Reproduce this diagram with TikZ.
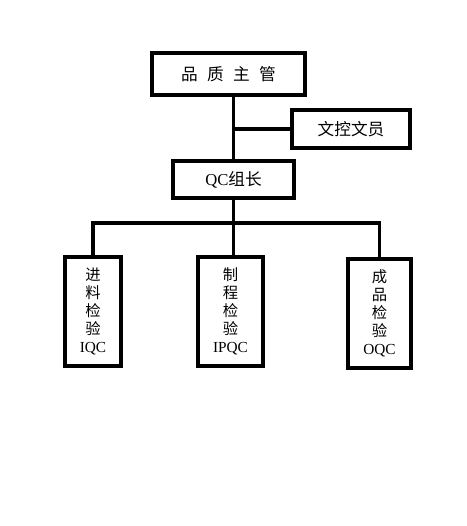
\documentclass[tikz,border=0pt]{standalone}
\usepackage{fontspec}
\setmainfont{Liberation Serif}
\newfontfamily\cjk{Noto Sans CJK SC}
\tikzset{
  box/.style={draw, line width=2.5pt, align=center, inner sep=0pt, font=\fontsize{11.5}{13.5}\selectfont},
  bigbox/.style={box, font=\fontsize{12.5}{14}\selectfont},
  link/.style={line width=2.5pt}
}
\begin{document}
\begin{tikzpicture}[x=0.75pt, y=-0.75pt]
\useasboundingbox (0,0) rectangle (467,526);

% Top level
\node[bigbox, minimum width=114.75pt, minimum height=31.5pt] (head) at (228.5,74) {\cjk 品\hspace{7pt}质\hspace{7pt}主\hspace{7pt}管};
\node[bigbox, minimum width=88.5pt, minimum height=28.5pt] (docctl) at (351,129) {\cjk 文控文员};
\node[bigbox, minimum width=90.75pt, minimum height=27.75pt] (leader) at (233.5,179.5) {QC{\cjk 组长}};

% Inspection boxes
\node[box, minimum width=42pt, minimum height=81.75pt] (iqc) at (93,311.5) {{\cjk 进}\\{\cjk 料}\\{\cjk 检}\\{\cjk 验}\\IQC};
\node[box, minimum width=48.75pt, minimum height=81.75pt] (ipqc) at (230.5,311.5) {{\cjk 制}\\{\cjk 程}\\{\cjk 检}\\{\cjk 验}\\IPQC};
\node[box, minimum width=47.25pt, minimum height=81.75pt] (oqc) at (379.5,313.5) {{\cjk 成}\\{\cjk 品}\\{\cjk 检}\\{\cjk 验}\\OQC};

% Connectors
\coordinate (bus) at (233,223);
\draw[link] (head.south -| leader.north) -- (leader.north);
\draw[link] (leader.north |- docctl.west) -- (docctl.west);
\draw[link] (leader.south) -- (leader.south |- ipqc.north);
\draw[link] (iqc.north) |- (bus) -| (oqc.north);
\end{tikzpicture}
\end{document}
